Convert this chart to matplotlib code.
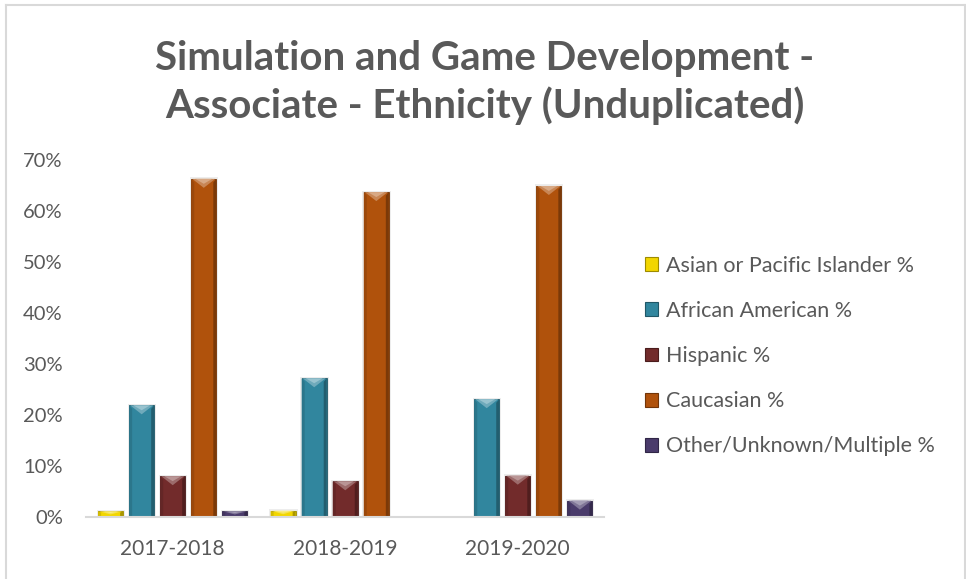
import numpy as np
import matplotlib
matplotlib.use("Agg")
import matplotlib.pyplot as plt
from matplotlib.patches import Polygon, Patch, Rectangle
from matplotlib.lines import Line2D
import matplotlib.colors as mcolors

plt.rcParams['font.family'] = ['Lato', 'DejaVu Sans']

years = ['2017-2018', '2018-2019', '2019-2020']
groups = ['Asian or Pacific Islander %', 'African American %', 'Hispanic %',
          'Caucasian %', 'Other/Unknown/Multiple %']
asian = [1.1, 1.2, 0.0]
african = [21.9, 27.2, 23.1]
hispanic = [8.0, 7.0, 8.1]
caucasian = [66.3, 63.7, 64.9]
other = [1.1, 0.0, 3.2]
series = [asian, african, hispanic, caucasian, other]
colors = ['#f2d600', '#31869e', '#722b2b', '#b0520c', '#4a3b6b']

text_grey = '#595959'
edge_grey = '#d9d9d9'

fig = plt.figure(figsize=(9.66, 5.79), dpi=100)
ax = fig.add_axes([0.0895, 0.1071, 0.5358, 0.6166])

x = np.arange(len(years))
pitch = 0.18
width = 0.145

ax.set_xlim(-0.5, 2.5)
ax.set_ylim(0, 0.70)


def shade(c, f):
    r, g, b = mcolors.to_rgb(c)
    if f >= 0:
        return (r + (1 - r) * f, g + (1 - g) * f, b + (1 - b) * f)
    return (r * (1 + f), g * (1 + f), b * (1 + f))


# pixel -> data sizes for the bevel decoration
fig.canvas.draw()
p0 = ax.transData.transform((0, 0))
p1 = ax.transData.transform((1, 1))
px_x = 1.0 / (p1[0] - p0[0])
px_y = 1.0 / (p1[1] - p0[1])

for i, (vals, col) in enumerate(zip(series, colors)):
    pos = x + (i - 2) * pitch
    h = np.array(vals) / 100.0
    # soft drop shadow
    for xp, hv in zip(pos, h):
        if hv <= 0:
            continue
        ax.add_patch(Rectangle((xp - width / 2 - 1.5 * px_x, 0), width + 3.5 * px_x,
                               hv + 1.5 * px_y, facecolor='#000000', alpha=0.07,
                               lw=0, zorder=1))
    bars = ax.bar(pos, h, width=width, color=col, edgecolor=shade(col, -0.35),
                  linewidth=0.6, zorder=2)
    for b in bars:
        hv = b.get_height()
        if hv <= 0:
            continue
        x0 = b.get_x()
        x1 = x0 + b.get_width()
        xc = (x0 + x1) / 2
        d = min(9 * px_y, hv * 0.55)
        s = 3 * px_x
        # darker right side, lighter left side
        ax.add_patch(Polygon([(x1 - s, 0), (x1 - s, hv - d * 0.4), (x1, hv), (x1, 0)],
                             closed=True, facecolor=shade(col, -0.3), lw=0, zorder=3))
        ax.add_patch(Polygon([(x0, 0), (x0, hv), (x0 + s, hv - d * 0.4), (x0 + s, 0)],
                             closed=True, facecolor=shade(col, -0.12), lw=0, zorder=3))
        # lit top bevel
        ax.add_patch(Polygon([(x0 + px_x, hv), (x1 - px_x, hv), (xc, hv - d)],
                             closed=True, facecolor=shade(col, 0.3), lw=0, zorder=3))
        ax.add_patch(Polygon([(x0 + 4 * px_x, hv), (x1 - 4 * px_x, hv), (xc, hv - d * 0.55)],
                             closed=True, facecolor=shade(col, 0.5), lw=0, zorder=3))

for sp in ['top', 'right', 'left']:
    ax.spines[sp].set_visible(False)
ax.spines['bottom'].set_color(edge_grey)
ax.spines['bottom'].set_linewidth(1.5)
ax.spines['bottom'].set_zorder(4)

ax.set_yticks(np.arange(0, 0.71, 0.1))
ax.set_yticklabels(['%d%%' % v for v in range(0, 71, 10)])
ax.set_xticks(x)
ax.set_xticklabels(years)
ax.tick_params(axis='y', length=0, pad=17, labelsize=14.5, labelcolor=text_grey)
ax.tick_params(axis='x', length=0, pad=16, labelsize=15, labelcolor=text_grey)

fig.text(0.502, 0.858, 'Simulation and Game Development -\nAssociate - Ethnicity (Unduplicated)',
         ha='center', va='center', fontsize=29, fontweight='bold', color=text_grey,
         linespacing=1.3)

handles = [Patch(facecolor=c, edgecolor=shade(c, -0.35), linewidth=0.8) for c in colors]
fig.legend(handles, groups, loc='center left', bbox_to_anchor=(0.6677, 0.385),
           frameon=False, fontsize=15.5, labelcolor=text_grey, labelspacing=1.17,
           handlelength=0.6, handleheight=0.6, handletextpad=0.37,
           borderpad=0, borderaxespad=0)

# chart frame (left, top, right)
W, H = 966.0, 579.0
for xs, ys in [([5.5, 5.5], [0, H - 4.5]), ([5.5, 964.5], [H - 4.5, H - 4.5]),
               ([964.5, 964.5], [H - 4.5, 0])]:
    fig.add_artist(Line2D([v / W for v in xs], [v / H for v in ys],
                          transform=fig.transFigure, color=edge_grey, lw=1.5))

fig.savefig('out.png', dpi=100)
